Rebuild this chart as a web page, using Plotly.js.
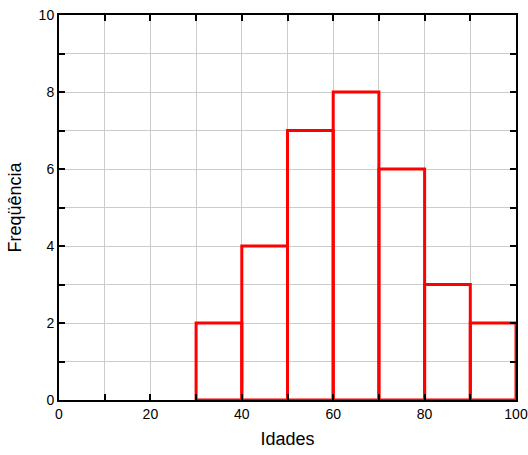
<!DOCTYPE html>
<html><head><meta charset="utf-8">
<script src="https://cdn.plot.ly/plotly-3.0.1.min.js"></script>
<style>body{margin:0;padding:0;background:#fff}#chart{width:528px;height:455px}</style>
</head><body><div id="chart"></div>
<script>
const binCenters = [35, 45, 55, 65, 75, 85, 95];
const frequencies = [2, 4, 7, 8, 6, 3, 2];
const binWidth = 10;

const trace = {
  type: 'bar',
  x: binCenters,
  y: frequencies,
  width: binCenters.map(() => binWidth),
  marker: {color: 'rgba(255,255,255,0)', line: {color: '#ff0000', width: 3}},
  hoverinfo: 'x+y'
};

const FONT = 'Liberation Sans, Arial, sans-serif';
const axisCommon = {
  showline: true, linecolor: '#000', linewidth: 2, mirror: 'ticks',
  ticks: 'inside', ticklen: 6, tickwidth: 2, tickcolor: '#000',
  showgrid: true, gridcolor: '#cccccc', gridwidth: 1,
  zeroline: false,
  tickfont: {family: FONT, size: 14, color: '#000'}
};

const layout = {
  width: 528, height: 455,
  margin: {l: 59, r: 12, t: 15, b: 55},
  paper_bgcolor: '#fff', plot_bgcolor: '#fff',
  showlegend: false,
  bargap: 0,
  xaxis: Object.assign({}, axisCommon, {
    range: [0, 100], tick0: 0, dtick: 20,
    minor: {dtick: 10, ticks: 'inside', ticklen: 6, tickwidth: 2, tickcolor: '#000', showgrid: true, gridcolor: '#cccccc', gridwidth: 1},
    title: {text: 'Idades', font: {family: FONT, size: 18, color: '#000'}, standoff: 12}
  }),
  yaxis: Object.assign({}, axisCommon, {
    range: [0, 10], tick0: 0, dtick: 2,
    minor: {dtick: 1, ticks: 'inside', ticklen: 6, tickwidth: 2, tickcolor: '#000', showgrid: true, gridcolor: '#cccccc', gridwidth: 1},
    title: {text: 'Freqüência', font: {family: FONT, size: 18, color: '#000'}, standoff: 12}
  })
};

Plotly.newPlot('chart', [trace], layout, {displayModeBar: false, staticPlot: true});
</script></body></html>
